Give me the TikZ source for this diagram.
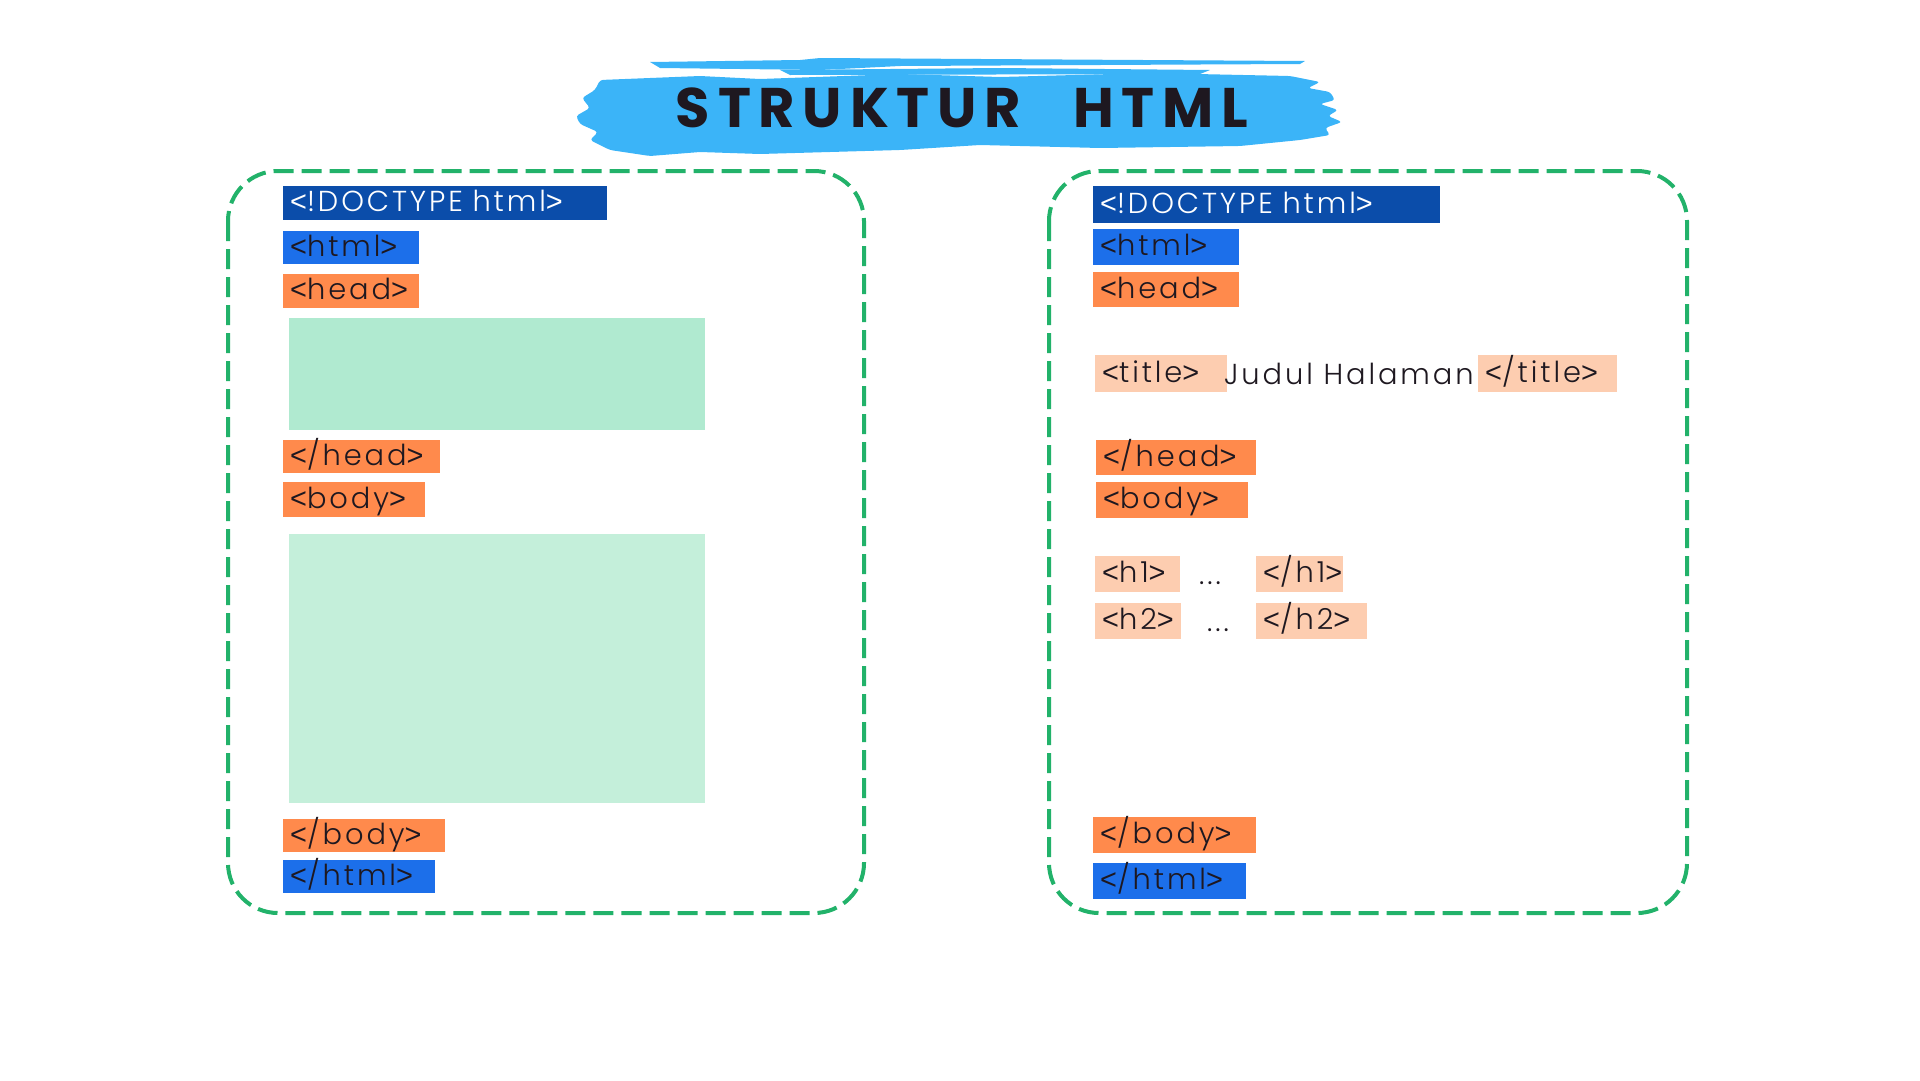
\documentclass[tikz,border=0pt]{standalone}
\usepackage{fontspec}
\usepackage{tikz}

\newfontfamily\tagfont{Poppins}[UprightFont=* Light, LetterSpace=10]
\newfontfamily\chevfont{Liberation Sans}
\newfontfamily\headfont{Poppins}[UprightFont=* Bold, LetterSpace=14]
\newcommand\chl{{\chevfont<}}
\newcommand\chr{{\chevfont>}}

\definecolor{doccol}{HTML}{0B4DAA}
\definecolor{htmlcol}{HTML}{1C6FEA}
\definecolor{headcol}{HTML}{FF8A4C}
\definecolor{peachcol}{HTML}{FDCDB0}
\definecolor{areaone}{HTML}{B0EAD0}
\definecolor{areatwo}{HTML}{C4EFDA}
\definecolor{framecol}{HTML}{22B26A}
\definecolor{brushcol}{HTML}{3BB4F8}
\definecolor{inkcol}{HTML}{1E1820}

\tikzset{
  tag/.style={anchor=north west, inner xsep=7bp, inner ysep=0pt, align=left,
              text height=22bp, text depth=5bp, text=inkcol,
              font=\tagfont\fontsize{29}{34}\selectfont},
  frame/.style={draw=framecol, line width=4bp, dash pattern=on 20bp off 8bp,
                rounded corners=50bp},
  plain/.style={inner sep=0pt, text=inkcol, font=\tagfont\fontsize{29}{34}\selectfont}
}

\begin{document}
\begin{tikzpicture}[x=1bp,y=-1bp]
        \useasboundingbox (0,0) rectangle (1920,1080);
        % Pinzellada del titol
        \fill[brushcol, rounded corners=3bp] (600,80) -- (700,76) -- (760,79) -- (900,74) -- (1000,77)
             -- (1150,73) -- (1290,76) -- (1320,82) -- (1308,88) -- (1330,92) -- (1335,100)
             -- (1320,104) -- (1338,110) -- (1328,116) -- (1342,122) -- (1325,128) -- (1330,135)
             -- (1300,140) -- (1240,146) -- (1100,148) -- (980,145) -- (900,150) -- (760,154)
             -- (700,152) -- (650,156) -- (610,150) -- (590,140) -- (598,132) -- (580,124)
             -- (576,116) -- (590,108) -- (582,98) -- (595,90) -- cycle;
        \fill[brushcol] (650,62) -- (800,60) -- (820,58) -- (1305,61) -- (1300,64)
             -- (900,66) -- (820,70) -- (660,68) -- cycle;
        \fill[brushcol] (780,70) -- (1000,68) -- (1210,70) -- (1200,74) -- (790,75) -- cycle;
        \node[text=inkcol, font=\headfont\fontsize{56}{60}\selectfont] (title) at (962,108) {STRUKTUR\hspace{52bp}HTML};

        % Marcs
        \draw[frame] (228,171) rectangle (864,913);
        \draw[frame] (1049,171) rectangle (1687,913);

        % Esquema buit
        \node[tag, fill=doccol, text=white, minimum height=34bp, text width=310bp] (ldoc) at (283,186) {\chl!DOCTYPE html\chr};
        \node[tag, fill=htmlcol, minimum height=33bp, text width=122bp] (lhtml) at (283,231) {\chl html\chr};
        \node[tag, fill=headcol, minimum height=34bp, text width=122bp] (lhead) at (283,274) {\chl head\chr};
        \fill[areaone] (289,318) rectangle (705,430);
        \node[tag, fill=headcol, minimum height=33bp, text width=143bp] (lheadend) at (283,440) {\chl/head\chr};
        \node[tag, fill=headcol, minimum height=35bp, text width=128bp] (lbody) at (283,482) {\chl body\chr};
        \fill[areatwo] (289,534) rectangle (705,803);
        \node[tag, fill=headcol, minimum height=33bp, text width=148bp] (lbodyend) at (283,819) {\chl/body\chr};
        \node[tag, fill=htmlcol, minimum height=33bp, text width=138bp] (lhtmlend) at (283,860) {\chl/html\chr};

        % Esquema amb contingut
        \node[tag, fill=doccol, text=white, minimum height=37bp, text width=333bp] (rdoc) at (1093,186) {\chl!DOCTYPE html\chr};
        \node[tag, fill=htmlcol, minimum height=36bp, text width=132bp] (rhtml) at (1093,229) {\chl html\chr};
        \node[tag, fill=headcol, minimum height=35bp, text width=132bp] (rhead) at (1093,272) {\chl head\chr};
        \node[tag, fill=peachcol, minimum height=37bp, text width=118bp] (rtitle) at (1095,355) {\chl title\chr};
        \node[plain, anchor=base west] (rtext) at (1224,384) {Judul Halaman};
        \node[tag, fill=peachcol, minimum height=37bp, text width=125bp] (rtitleend) at (1478,355) {\chl/title\chr};
        \node[tag, fill=headcol, minimum height=35bp, text width=146bp] (rheadend) at (1096,440) {\chl/head\chr};
        \node[tag, fill=headcol, minimum height=36bp, text width=138bp] (rbody) at (1096,482) {\chl body\chr};
        \node[tag, fill=peachcol, minimum height=36bp, text width=71bp] (rhone) at (1095,556) {\chl h1\chr};
        \node[plain, anchor=base] (rdotsone) at (1210,584) {...};
        \node[tag, fill=peachcol, minimum height=36bp, text width=73bp] (rhoneend) at (1256,556) {\chl/h1\chr};
        \node[tag, fill=peachcol, minimum height=36bp, text width=72bp] (rhtwo) at (1095,603) {\chl h2\chr};
        \node[plain, anchor=base] (rdotstwo) at (1218,631) {...};
        \node[tag, fill=peachcol, minimum height=36bp, text width=97bp] (rhtwoend) at (1256,603) {\chl/h2\chr};
        \node[tag, fill=headcol, minimum height=36bp, text width=149bp] (rbodyend) at (1093,817) {\chl/body\chr};
        \node[tag, fill=htmlcol, minimum height=36bp, text width=139bp] (rhtmlend) at (1093,863) {\chl/html\chr};
\end{tikzpicture}
\end{document}
